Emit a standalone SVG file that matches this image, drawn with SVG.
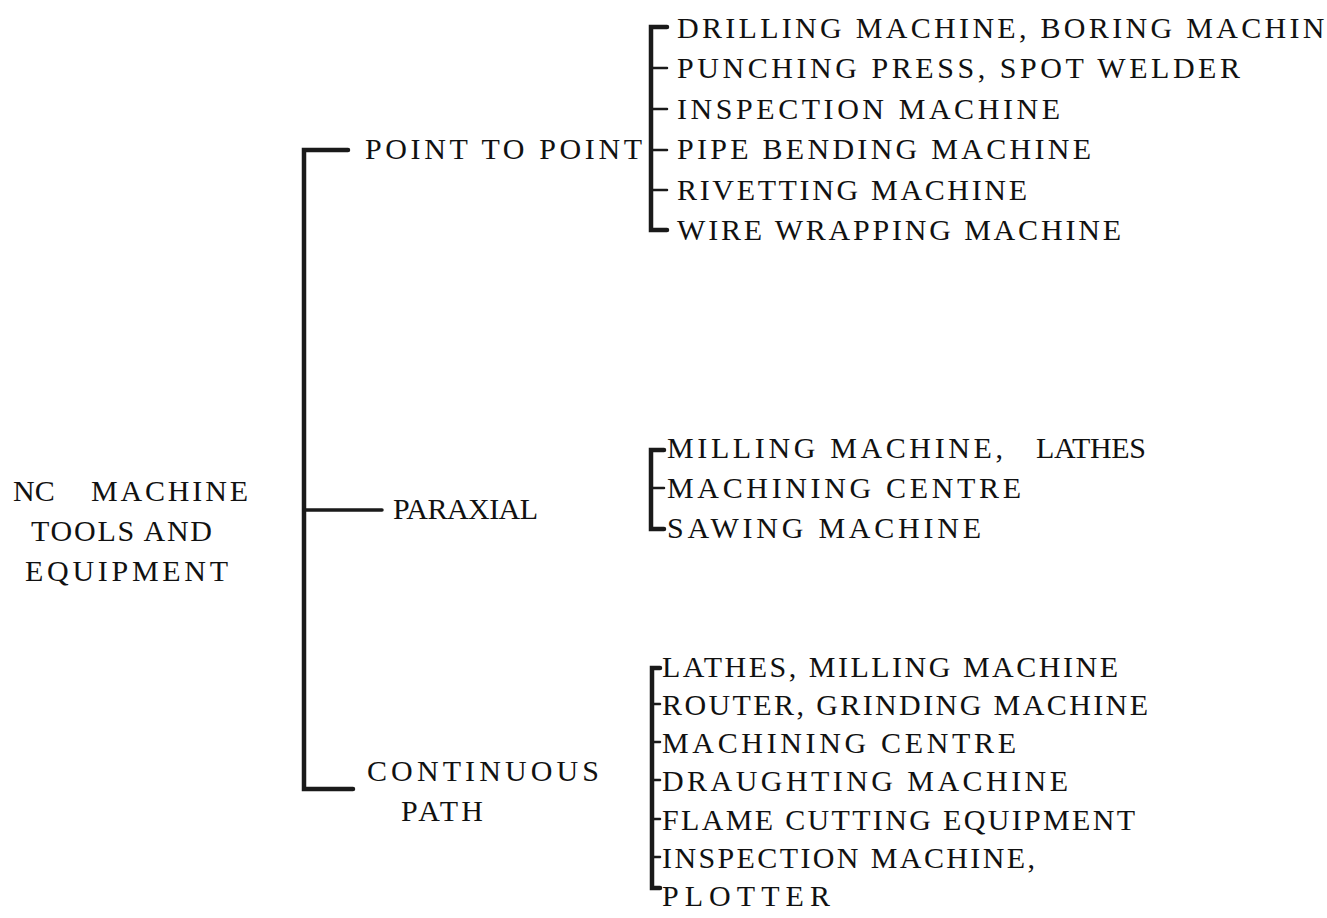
<svg xmlns="http://www.w3.org/2000/svg" width="1327" height="918" viewBox="0 0 1327 918">
<style>
.t{font-family:"Liberation Serif","Times New Roman",serif;font-size:30px;fill:#111;}
.c{fill:none;stroke:#1a1a1a;stroke-linecap:round;stroke-linejoin:miter;}
.v{stroke-width:4.5;}
.h{stroke-width:3.5;}
.k{stroke-width:2.5;}
</style>
<rect width="1327" height="918" fill="#fff"/>
<g id="connectors">
<path class="c v" d="M348,150 H304 V789 H353"/>
<path class="c h" d="M304,510 H382"/>
<path class="c v" d="M667,27 H651 V230 H667"/>
<path class="c k" d="M651,68 H667 M651,109 H667 M651,150 H667 M651,190 H667"/>
<path class="c v" d="M664,450 H651 V529 H664"/>
<path class="c k" d="M651,488 H664"/>
<path class="c v" d="M660,668 H652 V888 H660"/>
<path class="c k" d="M652,704 H660 M652,742 H660 M652,780 H660 M652,819 H660 M652,857 H660"/>
</g>
<g id="root">
<text class="t"><tspan x="13" y="501">NC</tspan><tspan x="91" y="501" textLength="157" lengthAdjust="spacing">MACHINE</tspan></text>
<text class="t" x="31" y="541" textLength="181" lengthAdjust="spacing">TOOLS AND</text>
<text class="t" x="25" y="581" textLength="203" lengthAdjust="spacing">EQUIPMENT</text>
</g>
<g id="point-to-point">
<text class="t" x="365" y="159" textLength="277" lengthAdjust="spacing">POINT TO POINT</text>
</g>
<g id="paraxial">
<text class="t" x="393" y="519" textLength="145" lengthAdjust="spacing">PARAXIAL</text>
</g>
<g id="continuous-path">
<text class="t" x="367" y="781" textLength="232" lengthAdjust="spacing">CONTINUOUS</text>
<text class="t" x="401" y="821" textLength="82" lengthAdjust="spacing">PATH</text>
</g>
<g id="ptp-items">
<text class="t" x="677" y="38" textLength="669" lengthAdjust="spacing">DRILLING MACHINE, BORING MACHINE</text>
<text class="t" x="677" y="78" textLength="563" lengthAdjust="spacing">PUNCHING PRESS, SPOT WELDER</text>
<text class="t" x="677" y="119" textLength="383" lengthAdjust="spacing">INSPECTION MACHINE</text>
<text class="t" x="677" y="159" textLength="414" lengthAdjust="spacing">PIPE BENDING MACHINE</text>
<text class="t" x="677" y="200" textLength="350" lengthAdjust="spacing">RIVETTING MACHINE</text>
<text class="t" x="677" y="240" textLength="444" lengthAdjust="spacing">WIRE WRAPPING MACHINE</text>
</g>
<g id="paraxial-items">
<text class="t"><tspan x="667" y="458" textLength="336" lengthAdjust="spacing">MILLING MACHINE,</tspan><tspan x="1036" y="458" textLength="110" lengthAdjust="spacing">LATHES</tspan></text>
<text class="t" x="667" y="498" textLength="354" lengthAdjust="spacing">MACHINING CENTRE</text>
<text class="t" x="667" y="538" textLength="314" lengthAdjust="spacing">SAWING MACHINE</text>
</g>
<g id="continuous-items">
<text class="t" x="662" y="677" textLength="456" lengthAdjust="spacing">LATHES, MILLING MACHINE</text>
<text class="t" x="662" y="715" textLength="486" lengthAdjust="spacing">ROUTER, GRINDING MACHINE</text>
<text class="t" x="662" y="753" textLength="354" lengthAdjust="spacing">MACHINING CENTRE</text>
<text class="t" x="662" y="791" textLength="406" lengthAdjust="spacing">DRAUGHTING MACHINE</text>
<text class="t" x="662" y="830" textLength="473" lengthAdjust="spacing">FLAME CUTTING EQUIPMENT</text>
<text class="t" x="662" y="868" textLength="373" lengthAdjust="spacing">INSPECTION MACHINE,</text>
<text class="t" x="662" y="906" textLength="168" lengthAdjust="spacing">PLOTTER</text>
</g>
</svg>
